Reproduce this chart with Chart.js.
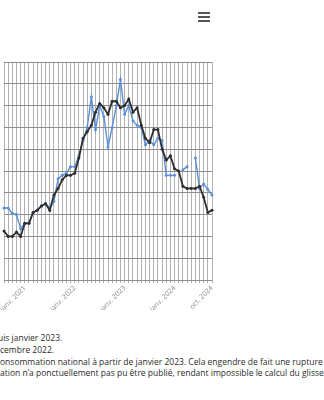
<!DOCTYPE html>
<html lang="fr">
<head>
<meta charset="UTF-8">
<script src="https://cdn.jsdelivr.net/npm/chart.js"></script>
<style>
  html, body { margin: 0; padding: 0; width: 324px; height: 400px; overflow: hidden; background: #fff; }
  body { position: relative; font-family: "Open Sans", sans-serif; }
  .menu { position: absolute; left: 198px; top: 12px; width: 12px; }
  .menu span { display: block; height: 2px; background: #555; margin-bottom: 2px; }
  .chart-box { position: absolute; left: 0; top: 55px; width: 216px; height: 255px; }
  .notes { position: absolute; left: 0; top: 332px; font-size: 8.5px; line-height: 11.8px; color: #2b2b2b; white-space: nowrap; }
  .notes p { margin: 0; }
  .notes p.first { margin-left: -2px; }
</style>
</head>
<body>
<div class="menu"><span></span><span></span><span></span></div>

<div class="chart-box"><canvas id="inflationChart"></canvas></div>

<div class="notes">
  <p class="first">uis janvier 2023.</p>
  <p>cembre 2022.</p>
  <p>onsommation national à partir de janvier 2023. Cela engendre de fait une rupture</p>
  <p>ation n’a ponctuellement pas pu être publié, rendant impossible le calcul du glissement</p>
</div>

<script>
  // months shown on the x axis (août 2020 -> oct. 2024)
  const mois = [
    'août 2020', 'sept. 2020', 'oct. 2020', 'nov. 2020', 'déc. 2020',
    'janv. 2021', 'févr. 2021', 'mars 2021', 'avr. 2021', 'mai 2021', 'juin 2021',
    'juil. 2021', 'août 2021', 'sept. 2021', 'oct. 2021', 'nov. 2021', 'déc. 2021',
    'janv. 2022', 'févr. 2022', 'mars 2022', 'avr. 2022', 'mai 2022', 'juin 2022',
    'juil. 2022', 'août 2022', 'sept. 2022', 'oct. 2022', 'nov. 2022', 'déc. 2022',
    'janv. 2023', 'févr. 2023', 'mars 2023', 'avr. 2023', 'mai 2023', 'juin 2023',
    'juil. 2023', 'août 2023', 'sept. 2023', 'oct. 2023', 'nov. 2023', 'déc. 2023',
    'janv. 2024', 'févr. 2024', 'mars 2024', 'avr. 2024', 'mai 2024', 'juin 2024',
    'juil. 2024', 'août 2024', 'sept. 2024', 'oct. 2024'
  ];

  // only these months get a label under the axis
  const etiquettes = ['janv. 2021', 'janv. 2022', 'janv. 2023', 'janv. 2024', 'oct. 2024'];

  // glissement annuel (%), national
  const national = [
    0.25, 0.0, 0.0, 0.2, 0.0,
    0.6, 0.6, 1.1, 1.2, 1.4, 1.5, 1.2, 1.9, 2.2, 2.6, 2.8, 2.8,
    2.9, 3.6, 4.5, 4.8, 5.1, 5.7, 6.1, 5.9, 5.6, 6.2, 6.2, 5.9,
    6.0, 6.3, 5.7, 5.9, 5.1, 4.5, 4.3, 4.9, 4.9, 4.0, 3.5, 3.7,
    3.1, 3.0, 2.3, 2.2, 2.2, 2.2, 2.3, 1.8, 1.1, 1.2
  ];

  // glissement annuel (%), local - null where the index was not published
  const local = [
    1.3, 1.3, 1.05, 1.0, 0.35,
    0.6, 0.6, 1.1, 1.2, 1.4, 1.5, 1.3, 1.6, 2.65, 2.8, 2.9, 3.2,
    3.2, 3.7, 4.4, 5.0, 6.4, 4.9, 6.0, 5.5, 4.1, 5.0, 6.0, 7.2,
    5.6, 6.0, 5.3, 5.1, 5.0, 4.2, 4.4, 4.2, 4.5, 4.4, 2.8, 2.8,
    2.8, null, 3.05, 3.2, null, 3.6, 2.2, 2.4, 2.15, 1.9
  ];

  const yMin = -2;
  const yMax = 8;

  const chart = new Chart(document.getElementById('inflationChart'), {
    type: 'line',
    data: {
      labels: mois,
      datasets: [
        {
          label: 'National',
          data: national,
          borderColor: '#2e2e2e',
          backgroundColor: '#2e2e2e',
          borderWidth: 1.8,
          pointRadius: 1.5,
          pointBorderWidth: 0,
          tension: 0
        },
        {
          label: 'Local',
          data: local,
          borderColor: '#5b8fd9',
          backgroundColor: '#5b8fd9',
          borderWidth: 1.4,
          pointRadius: 1.5,
          pointBorderWidth: 0,
          spanGaps: false,
          tension: 0
        }
      ]
    },
    options: {
      responsive: true,
      maintainAspectRatio: false,
      animation: false,
      layout: { padding: { top: 7, right: 3, left: 0, bottom: 0 } },
      plugins: {
        legend: { display: false },
        tooltip: { enabled: false },
        title: { display: false }
      },
      scales: {
        x: {
          grid: { color: '#b2b2b2', lineWidth: 1, tickLength: 3 },
          border: { display: false },
          ticks: {
            autoSkip: false,
            minRotation: 45,
            maxRotation: 45,
            padding: 1,
            color: '#8a8a8a',
            font: { family: 'Open Sans', size: 7 },
            callback: function (value) {
              const lab = this.getLabelForValue(value);
              return etiquettes.includes(lab) ? lab : '';
            }
          },
          afterFit: function (scale) {
            scale.height = 30;
            scale.paddingLeft = 0;
            scale.paddingRight = 0;
          }
        },
        y: {
          min: yMin,
          max: yMax,
          grid: { color: '#8e8e8e', lineWidth: 1, drawTicks: false },
          border: { display: false },
          ticks: { display: false, stepSize: 1 },
          afterFit: function (scale) {
            scale.width = 0;
          }
        }
      }
    }
  });
</script>
</body>
</html>
